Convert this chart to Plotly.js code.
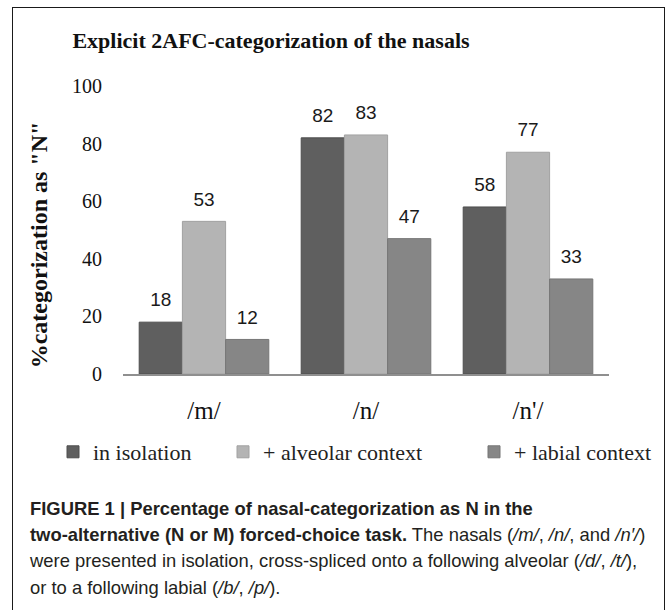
<!DOCTYPE html>
<html>
<head>
<meta charset="utf-8">
<script src="https://cdn.plot.ly/plotly-3.0.1.min.js"></script>
<style>
  html, body { margin:0; padding:0; background:#fff; width:672px; height:610px; overflow:hidden; }
  #frame { position:absolute; left:12px; top:7px; width:653px; height:640px; border:1.5px solid #1a1a1a; box-sizing:border-box; }
  #chart { position:absolute; left:0; top:0; width:672px; height:480px; }
  #caption { position:absolute; left:30px; top:496px; width:636px; font-family:"Liberation Sans", Arial, sans-serif; font-size:18.4px; line-height:26.2px; color:#231f20; white-space:nowrap; }
</style>
</head>
<body>
<div id="frame"></div>
<div id="chart"></div>
<div id="caption"><b>FIGURE 1 | Percentage of nasal-categorization as N in the<br>two-alternative (N or M) forced-choice task.</b> The nasals (<i>/m/</i>, <i>/n/</i>, and <i>/n′/</i>)<br>were presented in isolation, cross-spliced onto a following alveolar (<i>/d/</i>, <i>/t/</i>),<br>or to a following labial (<i>/b/</i>, <i>/p/</i>).</div>
<script>
const categories = ["/m/", "/n/", "/n'/"];
const seriesNames = ["in isolation", "+ alveolar context", "+ labial context"];
const isolation = [18, 82, 58];
const alveolar = [53, 83, 77];
const labial = [12, 47, 33];
const yTicks = [0, 20, 40, 60, 80, 100];

const colors = ["#5f5f5f", "#b4b4b4", "#868686"];
const lineColors = ["#4e4e4e", "#a2a2a2", "#757575"];
const serif = "Liberation Serif, Times New Roman, serif";
const sans = "Liberation Sans, Arial, sans-serif";
const values = [isolation, alveolar, labial];
const legendIds = ["legend", "legend2", "legend3"];
const legendLeft = [53, 223, 474];

const traces = [];
values.forEach((v, i) => {
  traces.push({
    type: "bar", name: seriesNames[i], x: categories, y: v,
    marker: { color: colors[i], line: { color: lineColors[i], width: 1 } },
    legend: legendIds[i], hoverinfo: "skip", offsetgroup: String(i)
  });
});
values.forEach((v, i) => {
  traces.push({
    type: "scatter", mode: "markers+text", x: categories, y: v,
    text: v.map(String), textposition: "top center",
    textfont: { family: sans, size: 19, color: "#1a1a1a" },
    marker: { size: 16, opacity: 0 }, showlegend: false, hoverinfo: "skip",
    cliponaxis: false, offsetgroup: String(i)
  });
});

function legendAt(xpx) {
  return {
    orientation: "h", xref: "container", yref: "container",
    x: xpx / 672, xanchor: "left", y: 1 - 452 / 480, yanchor: "middle",
    font: { family: serif, size: 22, color: "#222" }, bgcolor: "rgba(0,0,0,0)",
    itemclick: false, itemdoubleclick: false
  };
}

const layout = {
  width: 672, height: 480,
  margin: { l: 123, r: 63, t: 86, b: 106 },
  paper_bgcolor: "rgba(0,0,0,0)", plot_bgcolor: "rgba(0,0,0,0)",
  barmode: "group", bargap: 0.2, bargroupgap: 0,
  scattermode: "group", scattergap: 0.2,
  showlegend: true,
  title: {
    text: "<b>Explicit 2AFC-categorization of the nasals</b>",
    font: { family: serif, size: 22, color: "#111" },
    xref: "container", x: 271 / 672, xanchor: "center",
    yref: "container", y: 1 - 40 / 480, yanchor: "middle"
  },
  xaxis: {
    type: "category", showline: true, linecolor: "#8f8f8f", linewidth: 1.5,
    ticks: "", showgrid: false, zeroline: false,
    tickfont: { family: serif, size: 25, color: "#111" },
    ticklabelstandoff: 13
  },
  yaxis: {
    range: [0, 100], tickvals: yTicks, ticktext: yTicks.map(String),
    showline: false, showgrid: false, zeroline: false, ticks: "",
    tickfont: { family: serif, size: 20, color: "#111" },
    ticklabelstandoff: 20,
    title: { text: "<b>%categorization as \"N\"&#160;&#160;&#160;&#160;&#160;</b>", font: { family: serif, size: 24, color: "#111" }, standoff: 17 }
  },
  legend: legendAt(legendLeft[0]),
  legend2: legendAt(legendLeft[1]),
  legend3: legendAt(legendLeft[2])
};

Plotly.newPlot("chart", traces, layout, { staticPlot: true, displayModeBar: false });
</script>
</body>
</html>
